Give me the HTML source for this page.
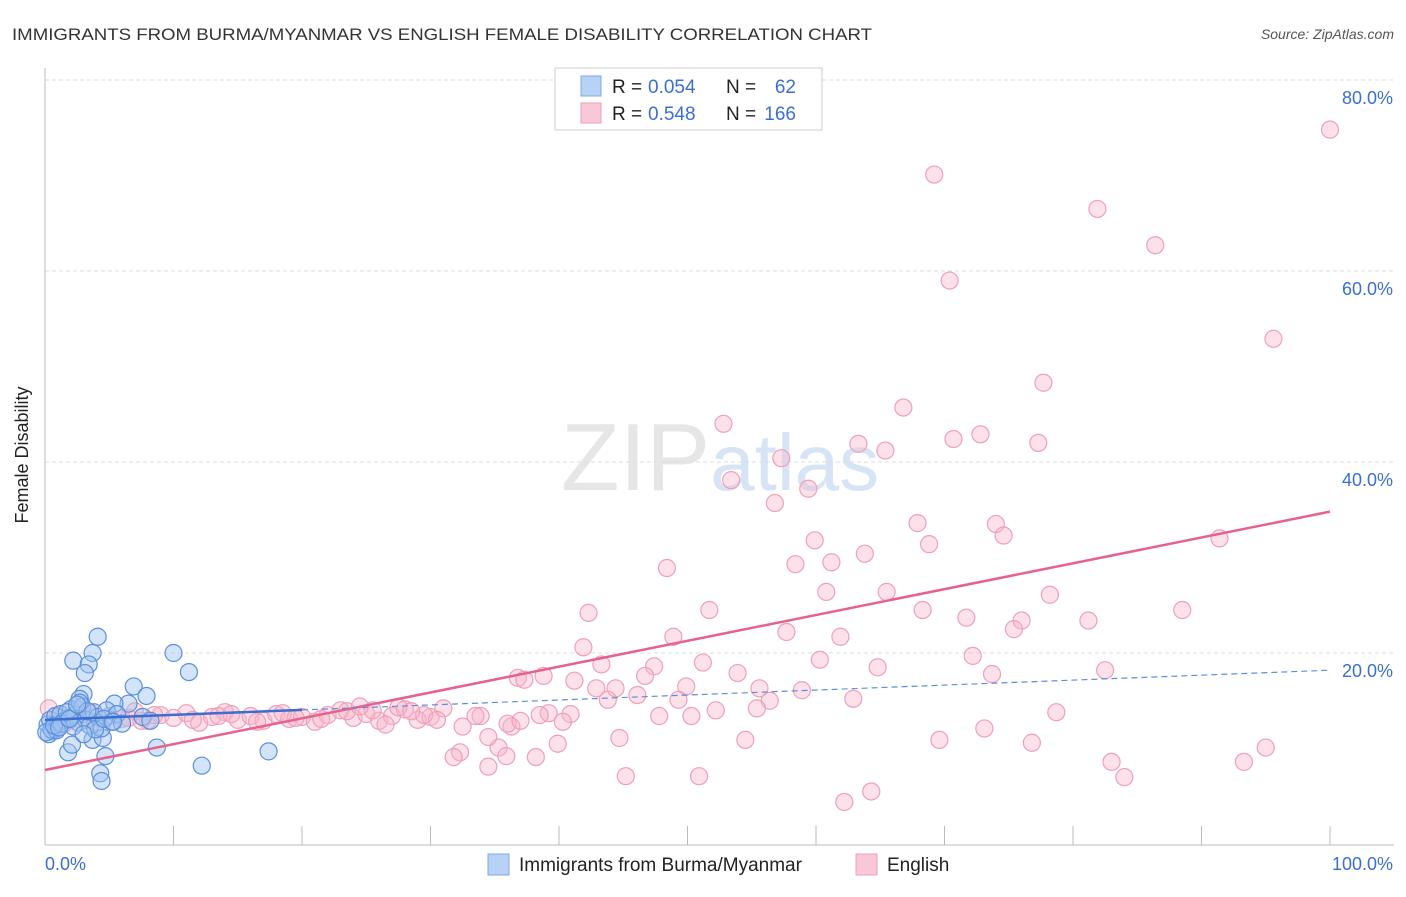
<!DOCTYPE html>
<html><head><meta charset="utf-8"><style>
body{margin:0;background:#fff;font-family:"Liberation Sans",sans-serif;}
svg text{font-family:"Liberation Sans",sans-serif;}
</style></head><body>
<svg width="1406" height="892" xmlns="http://www.w3.org/2000/svg">
<text x="12" y="40" font-size="17" fill="#333" textLength="860" lengthAdjust="spacingAndGlyphs">IMMIGRANTS FROM BURMA/MYANMAR VS ENGLISH FEMALE DISABILITY CORRELATION CHART</text>
<text x="1394" y="39" font-size="14" fill="#555" font-style="italic" text-anchor="end">Source: ZipAtlas.com</text>
<text x="720" y="490" font-size="96" fill="#e6e6e6" text-anchor="middle" font-family="Liberation Serif">ZIP<tspan fill="#d6e4f5" font-family="Liberation Sans" font-size="80">atlas</tspan></text>
<g id="grid"></g>
<line x1="45" y1="68" x2="45" y2="845" stroke="#bbb"/>
<line x1="45" y1="845" x2="1394" y2="845" stroke="#bbb"/>
<g id="xticks"></g>
<text x="28" y="455" font-size="18" fill="#222" text-anchor="middle" transform="rotate(-90 28 455)">Female Disability</text>
<text x="45" y="870" font-size="18" fill="#3a6fd0">0.0%</text>
<text x="1393" y="870" font-size="18" fill="#3a6fd0" text-anchor="end">100.0%</text>
<g id="pts"></g>
<g id="lines"></g>
<g>
<rect x="555" y="68" width="267" height="62" fill="#fff" stroke="#ccc"/>
<rect x="581" y="76" width="20" height="20" fill="#b7d2f5" stroke="#7fa8e0"/>
<rect x="581" y="103" width="20" height="20" fill="#f9c8d8" stroke="#eea0b8"/>
<text x="612" y="93" font-size="19" fill="#222">R =</text>
<text x="648" y="93" font-size="19" fill="#3a6fd0">0.054</text>
<text x="726" y="93" font-size="19" fill="#222">N =</text>
<text x="796" y="93" font-size="19" fill="#3a6fd0" text-anchor="end">62</text>
<text x="612" y="120" font-size="19" fill="#222">R =</text>
<text x="648" y="120" font-size="19" fill="#3a6fd0">0.548</text>
<text x="726" y="120" font-size="19" fill="#222">N =</text>
<text x="796" y="120" font-size="19" fill="#3a6fd0" text-anchor="end">166</text>
</g>
<g>
<rect x="488" y="854" width="21" height="21" fill="#b7d2f5" stroke="#7fa8e0"/>
<text x="519" y="871" font-size="19" fill="#222">Immigrants from Burma/Myanmar</text>
<rect x="856" y="854" width="21" height="21" fill="#f9c8d8" stroke="#eea0b8"/>
<text x="887" y="871" font-size="19" fill="#222">English</text>
</g>
</svg>
<script>
const yTicks=[20,40,60,80];
const yTickLabels=["20.0%","40.0%","60.0%","80.0%"];
const xTicks=[0,10,20,30,40,50,60,70,80,90,100];
const pinkX=[100,69.2,81.9,86.4,70.4,95.6,77.7,66.8,52.8,70.7,72.8,63.3,77.3,65.4,57.3,53.4,59.4,56.8,67.9,74.0,74.6,68.8,59.9,63.8,91.4,58.4,61.2,48.4,60.8,65.5,78.2,42.3,51.7,68.3,88.5,71.7,76.0,81.2,75.4,57.7,48.9,61.9,41.9,72.2,60.3,43.3,51.2,47.4,64.8,82.5,73.7,53.9,38.8,36.8,37.3,41.2,46.7,49.9,42.9,44.4,55.6,58.9,46.1,43.8,49.3,56.4,62.9,52.2,55.4,78.7,39.2,40.9,47.8,50.3,33.9,40.3,36.3,73.1,44.7,54.5,69.6,76.8,39.9,35.3,95.0,32.3,35.9,38.2,31.8,34.5,83.0,93.3,45.2,50.9,84.0,64.3,62.2,
0.3,1,2,3,4,5,6,7,8,9,10,11,12,13,14,15,16,17,18,19,20,21,22,23,24,25,26,27,28,29,30,31,1.5,3.5,6.5,8.5,11.5,13.5,16.5,18.5,21.5,23.5,25.5,27.5,29.5,7.5,14.5,19.5,24.5,26.5,30.5,32.5,33.5,34.5,36,37,38.5,28.5,22.5,10.5];
const pinkY=[74.8,70.1,66.5,62.7,59.0,52.9,48.3,45.7,44.0,42.4,42.9,41.9,42.0,41.2,40.4,38.1,37.2,35.7,33.6,33.5,32.3,31.4,31.8,30.4,32.0,29.3,29.5,28.9,26.4,26.4,26.1,24.2,24.5,24.5,24.5,23.7,23.4,23.4,22.5,22.2,21.7,21.7,20.6,19.7,19.3,18.8,19.0,18.6,18.5,18.2,17.8,17.9,17.6,17.4,17.2,17.1,17.6,16.5,16.3,16.3,16.3,16.1,15.6,15.1,15.1,15.0,15.2,14.0,14.2,13.8,13.7,13.6,13.4,13.4,13.4,12.8,12.3,12.1,11.1,10.9,10.9,10.6,10.5,10.1,10.1,9.6,9.2,9.1,9.1,8.1,8.6,8.6,7.1,7.1,7.0,5.5,4.4,
14.2,13.3,13.0,13.6,12.8,13.4,13.1,13.9,12.9,13.5,13.2,13.7,12.7,13.3,13.8,13.0,13.4,12.9,13.6,13.1,13.3,12.8,13.5,14.0,13.2,13.6,12.9,13.4,14.1,13.0,13.3,14.2,12.6,13.8,13.2,13.5,13.0,13.4,12.8,13.7,13.1,13.9,14.0,14.3,13.5,12.9,13.6,13.2,14.4,12.5,13.0,12.3,13.4,11.2,12.6,12.9,13.5,13.9];
const blueX=[4.1,2.2,3.7,3.4,3.1,10.0,11.2,6.9,7.9,6.5,5.4,3.0,2.7,8.7,12.2,17.4,4.3,4.4,4.7,1.8,2.1,3.7,4.5,
0.2,0.4,0.6,0.8,1.0,1.2,1.5,1.8,2.0,2.3,2.6,2.9,3.2,3.5,3.8,4.1,4.4,4.8,5.2,5.6,6.0,0.3,0.5,0.9,1.3,1.7,2.2,2.7,3.3,3.9,4.6,5.3,0.1,0.7,1.1,1.9,7.6,8.2,2.5,3.0];
const blueY=[21.7,19.2,20.0,18.8,17.9,20.0,18.0,16.5,15.5,14.7,14.7,15.7,15.2,10.1,8.2,9.7,7.4,6.6,9.2,9.6,10.4,10.9,11.1,
12.5,13.0,11.8,13.4,12.2,13.6,12.9,13.2,14.1,13.5,12.7,14.4,13.0,12.4,13.8,13.3,12.1,14.0,12.8,13.6,12.6,11.5,12.0,11.9,12.6,13.8,12.3,14.8,13.9,12.0,13.1,12.8,11.7,12.4,12.2,13.1,13.3,12.9,14.6,11.5];
const X0=45,X1=1330,Y0=844,YS=9.55;
const sx=v=>X0+(X1-X0)*v/100, sy=v=>Y0-YS*v;
const NS="http://www.w3.org/2000/svg";
function mk(t,a,p){const e=document.createElementNS(NS,t);for(const k in a)e.setAttribute(k,a[k]);p.appendChild(e);return e;}
const grid=document.getElementById('grid');
yTicks.forEach((v,i)=>{
 const l=mk('line',{x1:45,x2:1394,y1:sy(v),y2:sy(v),stroke:'#ddd','stroke-dasharray':'4,3'},grid);
 
 
 const t=mk('text',{x:1393,y:sy(v)+24,'font-size':18,fill:'#3a6fd0','text-anchor':'end'},grid);
 t.textContent=yTickLabels[i];
 
 
});
const xt=document.getElementById('xticks');
xTicks.forEach(v=>{
 const l=mk('line',{x1:sx(v),x2:sx(v),y1:826,y2:845,stroke:'#bbb'},xt);
 
 
});
const pts=document.getElementById('pts');
const nP=Math.min(pinkX.length,pinkY.length);
pinkX.slice(0,nP).forEach((v,i)=>{
 const c=mk('circle',{cx:sx(v),cy:sy(pinkY[i]),r:8.5,fill:'rgba(248,180,202,0.4)',stroke:'#eea0b8','stroke-width':1.2},pts);
 
 
});
const nB=Math.min(blueX.length,blueY.length);
blueX.slice(0,nB).forEach((v,i)=>{
 const c=mk('circle',{cx:sx(v),cy:sy(blueY[i]),r:8.5,fill:'rgba(160,195,240,0.45)',stroke:'#5b8fdc','stroke-width':1.2},pts);
 
 
});
const ln=document.getElementById('lines');
const pinkTrend=[7.75,34.8];
const blueTrend=[13.0,18.2];
let l1=mk('line',{x1:sx(0),y1:sy(pinkTrend[0]),x2:sx(100),y2:sy(pinkTrend[1]),stroke:'#e8608c','stroke-width':2.5},ln);


const bAt=x=>blueTrend[0]+(blueTrend[1]-blueTrend[0])*x/100;
let l2=mk('line',{x1:sx(0),y1:sy(bAt(0)),x2:sx(20),y2:sy(bAt(20)),stroke:'#3a6fd0','stroke-width':2.5},ln);


let l3=mk('line',{x1:sx(20),y1:sy(bAt(20)),x2:sx(100),y2:sy(bAt(100)),stroke:'#5b8fdc','stroke-width':1.2,'stroke-dasharray':'6,4'},ln);


</script>
</body></html>
